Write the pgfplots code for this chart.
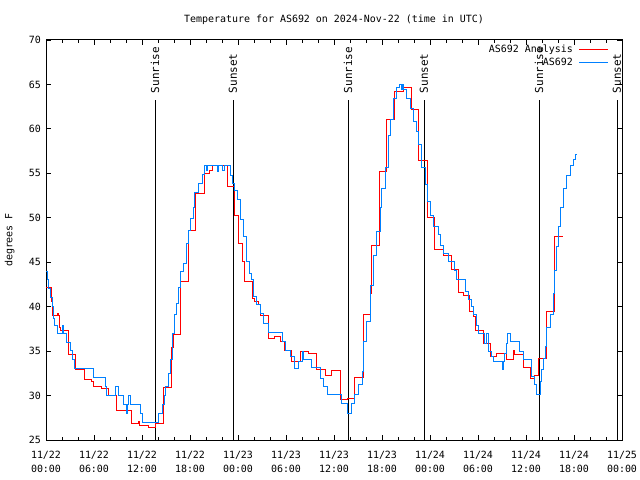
\documentclass[border=0pt]{standalone}
\usepackage{pgfplots}
\pgfplotsset{compat=1.18}
\usepackage{fontspec}
\setmainfont{DejaVu Sans Mono}
\definecolor{gpblue}{RGB}{0,128,255}
\newcommand{\gpfont}{\fontsize{10}{14}\selectfont}
\newcommand{\gpbig}{\fontsize{11}{14}\selectfont}
\begin{document}
\gpfont
\begin{tikzpicture}
\useasboundingbox (0,0) rectangle (640bp,480bp);
\begin{axis}[
  at={(46bp,40bp)}, anchor=south west,
  scale only axis, width=576bp, height=400bp,
  xmin=0, xmax=72, ymin=25, ymax=70,
  xtick={0,6,...,72}, minor x tick num=2,
  xticklabels={{11/22\\00:00},{11/22\\06:00},{11/22\\12:00},{11/22\\18:00},{11/23\\00:00},{11/23\\06:00},{11/23\\12:00},{11/23\\18:00},{11/24\\00:00},{11/24\\06:00},{11/24\\12:00},{11/24\\18:00},{11/25\\00:00}},
  ytick={25,30,...,70},
  /pgf/number format/assume math mode=true,
  tick align=inside, tick pos=both,
  major tick length=5bp, minor tick length=3bp,
  every tick/.style={black, line width=0.8bp},
  axis line style={line width=1bp},
  xticklabel style={align=center, font=\gpfont, yshift=-8bp},
  yticklabel style={font=\gpfont, xshift=-1.5bp},
  title={Temperature for AS692 on 2024-Nov-22 (time in UTC)},
  title style={font=\gpfont, at={(axis description cs:0.5,1)}, anchor=center, yshift=14bp},
  ylabel={degrees F},
  ylabel style={font=\gpfont, at={(axis description cs:-0.063,0.5)}, anchor=center},
  legend plot pos=right,
  legend cell align=right,
  legend image code/.code={\draw[#1] (0bp,0bp) -- (29bp,0bp);},
  legend style={at={(rel axis cs:1,1)}, anchor=north east, xshift=-10bp, yshift=-1bp,
    draw=none, fill=none, font=\gpfont, row sep=0bp,
    nodes={inner sep=2bp},
    /tikz/every odd column/.append style={column sep=4bp}},
]
% sunrise / sunset lines
\addplot[black, line width=1bp, forget plot] coordinates {(13.625,25) (13.625,63.25)};
\addplot[black, line width=1bp, forget plot] coordinates {(23.375,25) (23.375,63.25)};
\addplot[black, line width=1bp, forget plot] coordinates {(37.75,25) (37.75,63.25)};
\addplot[black, line width=1bp, forget plot] coordinates {(47.25,25) (47.25,63.25)};
\addplot[black, line width=1bp, forget plot] coordinates {(61.625,25) (61.625,63.25)};
\addplot[black, line width=1bp, forget plot] coordinates {(71.375,25) (71.375,63.25)};
\node[rotate=90, anchor=west, inner sep=0pt, font=\gpbig] at (axis cs:13.625,64.0) {Sunrise};
\node[rotate=90, anchor=west, inner sep=0pt, font=\gpbig] at (axis cs:23.375,64.0) {Sunset};
\node[rotate=90, anchor=west, inner sep=0pt, font=\gpbig] at (axis cs:37.75,64.0) {Sunrise};
\node[rotate=90, anchor=west, inner sep=0pt, font=\gpbig] at (axis cs:47.25,64.0) {Sunset};
\node[rotate=90, anchor=west, inner sep=0pt, font=\gpbig] at (axis cs:61.625,64.0) {Sunrise};
\node[rotate=90, anchor=west, inner sep=0pt, font=\gpbig] at (axis cs:71.375,64.0) {Sunset};

\addplot[red, line width=1bp, const plot, mark=none] coordinates {
(0,42.1)(0.71,40.6)(0.83,39.0)(1.42,39.2)(1.58,39.0)(1.67,37.7)(1.83,37.3)(2.75,34.6)(3.67,32.9)(4.75,31.8)(5.71,31.6)(5.92,31.0)(6.96,30.75)(7.8,30.0)(8.8,28.3)(10.67,26.9)(11.54,27.1)(11.7,26.6)(12.8,26.4)(13.7,26.8)(14.67,30.9)(15.7,35.4)(15.9,36.9)(16.75,42.8)(17.8,48.6)(18.7,52.7)(19.75,55.0)(20.4,55.3)(20.8,55.9)(22.67,53.5)(23.6,50.3)(24.0,47.1)(24.5,45.1)(24.8,42.8)(25.8,40.9)(26.1,40.6)(26.5,40.2)(26.8,39.0)(27.8,36.4)(28.6,36.6)(29.3,36.1)(29.8,35.1)(30.7,33.8)(31.75,35.0)(32.8,34.75)(33.8,32.9)(34.9,32.3)(35.7,32.8)(36.75,29.5)(37.7,29.7)(38.6,32.0)(39.7,39.1)(40.6,41.5)(40.7,46.9)(41.7,55.2)(42.6,61.0)(43.6,64.2)(44.7,64.7)(45.7,62.2)(46.6,56.4)(47.7,50.0)(48.6,46.4)(49.7,45.8)(50.7,44.2)(51.6,41.6)(52.2,41.2)(52.9,39.4)(53.4,38.9)(53.7,37.3)(54.7,35.8)(55.6,34.4)(56.3,34.7)(57.5,34.0)(58.4,35.1)(58.6,34.6)(59.7,33.1)(60.6,31.9)(61.0,32.3)(61.6,34.2)(62.5,39.4)(63.5,47.9)(64.6,47.9)
};
\addlegendentry{AS692 Analysis}

\addplot[gpblue, line width=1bp, const plot, mark=none] coordinates {
(0,44.0)(0.15,43.0)(0.35,42.0)(0.55,41.0)(0.75,40.0)(0.92,38.7)(1.12,37.9)(1.42,37.0)(2.1,37.9)(2.2,37.0)(2.58,36.0)(3.0,35.1)(3.3,34.0)(3.58,33.0)(5.92,32.0)(7.46,31.0)(7.6,30.0)(8.7,31.0)(9.1,30.0)(9.67,29.0)(10.0,28.0)(10.17,29.0)(10.3,30.0)(10.6,29.0)(11.8,28.0)(12.1,27.0)(14.0,28.0)(14.6,29.0)(14.75,30.0)(14.9,31.0)(15.25,32.5)(15.5,34.0)(15.8,37.0)(16.1,39.1)(16.3,40.4)(16.6,42.1)(16.8,43.9)(17.2,44.9)(17.5,47.1)(17.75,48.6)(18.1,49.9)(18.4,51.2)(18.6,52.8)(19.0,53.9)(19.5,54.9)(19.8,55.9)(20.0,55.3)(20.2,55.9)(21.4,55.2)(21.5,55.9)(22.1,55.3)(22.3,55.9)(23.0,54.8)(23.3,53.9)(23.6,53.1)(23.9,52.0)(24.25,49.75)(24.7,47.9)(25.0,45.1)(25.4,43.75)(25.7,43.0)(25.9,41.1)(26.3,40.2)(26.8,39.25)(27.2,38.1)(27.8,37.1)(29.6,36.1)(29.95,35.1)(30.5,34.4)(31.1,33.0)(31.5,33.8)(32.1,35.0)(32.2,34.0)(33.2,33.1)(34.25,31.9)(34.7,31.0)(35.2,30.1)(36.96,29.1)(37.7,28.0)(38.2,29.1)(38.6,30.1)(39.0,31.2)(39.5,32.7)(39.7,36.1)(40.1,38.3)(40.5,42.4)(40.9,45.8)(41.3,48.4)(41.75,51.1)(41.96,53.3)(42.4,55.6)(42.8,59.3)(43.0,61.0)(43.4,63.4)(43.8,64.6)(44.2,65.0)(44.4,64.4)(44.5,65.0)(44.7,64.4)(45.1,63.4)(45.5,62.3)(45.9,60.8)(46.3,59.7)(46.6,58.2)(46.96,55.6)(47.4,53.7)(47.7,51.8)(48.0,50.3)(48.4,49.0)(49.0,48.1)(49.25,46.9)(49.7,46.0)(50.3,45.1)(51.0,44.1)(51.25,43.0)(52.4,41.7)(52.8,40.75)(53.2,40.0)(53.4,39.1)(53.8,37.9)(54.0,37.0)(54.75,35.9)(55.0,37.0)(55.3,35.0)(55.7,34.4)(55.9,33.8)(57.1,32.9)(57.2,33.8)(57.25,34.75)(57.5,35.9)(57.7,37.0)(58.1,36.1)(59.2,35.0)(59.7,34.0)(60.7,32.1)(61.1,31.2)(61.3,30.1)(61.75,31.6)(61.96,32.9)(62.2,34.2)(62.4,35.5)(62.6,37.6)(63.0,39.1)(63.4,41.5)(63.6,44.1)(63.8,46.75)(64.0,49.0)(64.3,51.1)(64.7,53.3)(65.1,54.8)(65.5,55.9)(65.9,56.6)(66.2,57.1)(66.3,57.1)
};
\addlegendentry{AS692}
\end{axis}
\end{tikzpicture}
\end{document}
